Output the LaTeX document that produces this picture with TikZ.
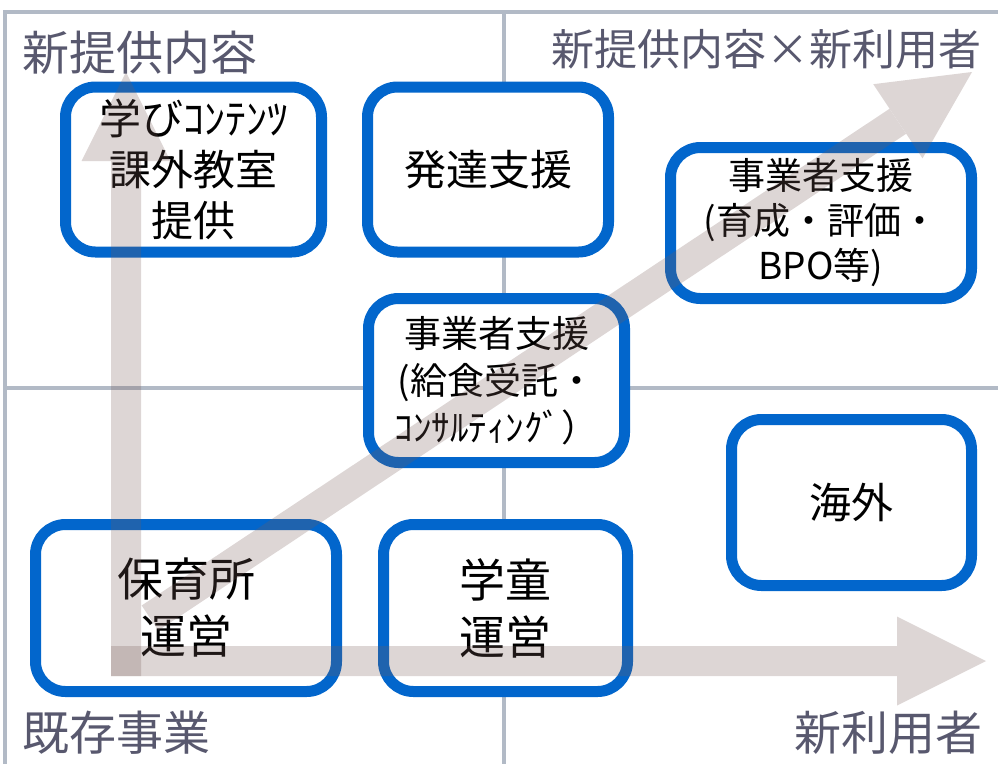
\documentclass[tikz,border=0pt]{standalone}
\usepackage{fontspec}
\setmainfont{Noto Sans CJK JP}
\usepackage{xcolor}
\usetikzlibrary{arrows.meta,positioning}
\definecolor{boxblue}{RGB}{2,102,204}
\definecolor{gridgray}{RGB}{178,186,198}
\definecolor{axisbrown}{RGB}{120,92,88}
\definecolor{labelgray}{RGB}{88,88,110}

\begin{document}
\begin{tikzpicture}[x=1pt, y=-1pt,
                box/.style={draw=boxblue, line width=11pt, rounded corners=30pt,
                  fill=white, inner sep=0pt, align=center},
                grid line/.style={draw=gridgray, line width=4pt},
                axis/.style={draw=axisbrown, line width=30pt,
                  -{Triangle[length=89pt, width=89pt, line width=0pt]}},
                corner/.style={text=labelgray, inner sep=0pt}]

  \useasboundingbox (0,0) rectangle (998,764);

  \draw[grid line] (998,11.5) -- (5,11.5) -- (5,764);
  \draw[grid line] (5,388) -- (998,388);
  \draw[grid line] (504,11.5) -- (504,764);

  \node[box, minimum width=256pt, minimum height=165pt,
        font=\fontsize{42}{51}\selectfont] (1) at (193.5,169.5) {学びｺﾝﾃﾝﾂ\\課外教室\\提供};
  \node[box, minimum width=241pt, minimum height=165pt,
        font=\fontsize{42}{51}\selectfont] (2) [right=35pt of 1] {発達支援};
  \node[box, minimum width=301pt, minimum height=151pt,
        font=\fontsize{37}{45}\selectfont] (3) at (821,223) {事業者支援\\(育成・評価・\\BPO等)};
  \node[box, minimum width=256pt, minimum height=164pt,
        font=\fontsize{37}{47}\selectfont] (4) at (496.5,380.5) {事業者支援\\(給食受託・\\ｺﾝｻﾙﾃｨﾝｸﾞ）};
  \node[box, minimum width=301pt, minimum height=167pt,
        font=\fontsize{46}{57}\selectfont] (5) at (186,608) {保育所\\運営};
  \node[box, minimum width=244pt, minimum height=167pt,
        font=\fontsize{46}{57}\selectfont] (6) [right=36pt of 5] {学童\\運営};
  \node[box, minimum width=240pt, minimum height=166pt,
        font=\fontsize{42}{51}\selectfont] (7) at (851.5,502.5) {海外};

  \coordinate (vstart) at (126,676);
  \coordinate (vtip) at (126,72);
  \coordinate (hstart) at (111,661);
  \coordinate (htip) at (986,661);
  \coordinate (dstart) at (150,618);
  \coordinate (dtip) at (972,72);

  \begin{scope}[transparency group, opacity=0.25]
    \draw[axis] (vstart) -- (vtip);
  \end{scope}
  \begin{scope}[transparency group, opacity=0.25]
    \draw[axis] (hstart) -- (htip);
  \end{scope}
  \begin{scope}[transparency group, opacity=0.25]
    \draw[axis] (dstart) -- (dtip);
  \end{scope}

  \node[corner, anchor=west, font=\fontsize{47}{47}\selectfont] (a) at (22,53) {新提供内容};
  \node[corner, anchor=east, font=\fontsize{43}{43}\selectfont] (b) at (982,49) {新提供内容×新利用者};
  \node[corner, anchor=west, font=\fontsize{47}{47}\selectfont] (c) at (22,733) {既存事業};
  \node[corner, anchor=east, font=\fontsize{47}{47}\selectfont] (d) at (983,733) {新利用者};
\end{tikzpicture}
\end{document}
